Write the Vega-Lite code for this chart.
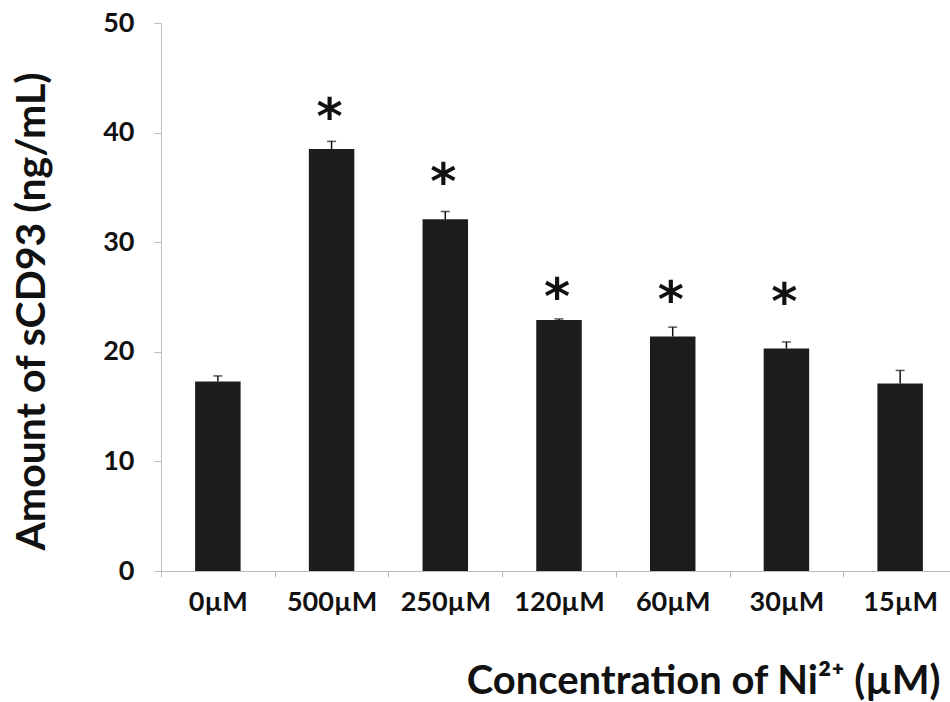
{
  "$schema": "https://vega.github.io/schema/vega-lite/v6.json",
  "autosize": {"type": "none"},
  "padding": {"left": 161, "top": 23, "right": 0, "bottom": 131},
  "width": 789,
  "height": 548,
  "background": "white",
  "config": {"view": {"stroke": null}, "font": "Lato"},
  "data": {"values": [
    {"conc": "0µM", "value": 17.3, "err": 17.8, "star": null},
    {"conc": "500µM", "value": 38.5, "err": 39.2, "star": 42.5},
    {"conc": "250µM", "value": 32.1, "err": 32.8, "star": 36.6},
    {"conc": "120µM", "value": 22.9, "err": 23.0, "star": 26.1},
    {"conc": "60µM", "value": 21.4, "err": 22.25, "star": 25.8},
    {"conc": "30µM", "value": 20.3, "err": 20.9, "star": 25.6},
    {"conc": "15µM", "value": 17.1, "err": 18.3, "star": null}
  ]},
  "encoding": {
    "x": {
      "field": "conc", "type": "nominal", "sort": null,
      "scale": {"range": [0, 796], "paddingInner": 0.6, "paddingOuter": 0.3},
      "axis": {
        "title": "Concentration of Ni²⁺ (µM)",
        "labelAngle": 0, "labelFontSize": 27, "labelFontWeight": "bold", "labelColor": "#111",
        "labelPadding": 12, "labelOffset": 56.86, "tickOffset": -56.86,
        "tickSize": 6, "tickColor": "#bbbbbb", "domainColor": "#bbbbbb",
        "titleFontSize": 40, "titleFontWeight": "bold", "titleColor": "#111",
        "titleAnchor": null, "titleAlign": "right", "titleBaseline": "alphabetic",
        "titleX": 779, "titleY": 122
      }
    }
  },
  "layer": [
    {
      "mark": {"type": "bar", "color": "#1c1c1c"},
      "encoding": {
        "y": {
          "field": "value", "type": "quantitative",
          "scale": {"domain": [0, 50]},
          "axis": {
            "title": "Amount of sCD93 (ng/mL)",
            "values": [0, 10, 20, 30, 40, 50], "grid": false,
            "labelFontSize": 27, "labelFontWeight": "bold", "labelColor": "#111", "labelPadding": 20,
            "tickSize": 7, "tickColor": "#bbbbbb", "domainColor": "#bbbbbb",
            "titleFontSize": 41, "titleFontWeight": "bold", "titleColor": "#111",
            "titleAnchor": null, "titleAlign": "center", "titleBaseline": "middle", "titleAngle": -90,
            "titleX": -129, "titleY": 288
          }
        }
      }
    },
    {
      "mark": {"type": "rule", "color": "#111", "strokeWidth": 1.5},
      "encoding": {
        "y": {"field": "value", "type": "quantitative"},
        "y2": {"field": "err"}
      }
    },
    {
      "mark": {"type": "tick", "color": "#111", "thickness": 1.5, "size": 9},
      "encoding": {
        "y": {"field": "err", "type": "quantitative"}
      }
    },
    {
      "transform": [{"filter": "datum.star != null"}],
      "mark": {"type": "text", "text": "*", "font": "DejaVu Sans", "fontWeight": "bold", "fontSize": 50, "baseline": "middle", "dy": 14, "dx": -2, "color": "#111"},
      "encoding": {
        "y": {"field": "star", "type": "quantitative"}
      }
    }
  ]
}
